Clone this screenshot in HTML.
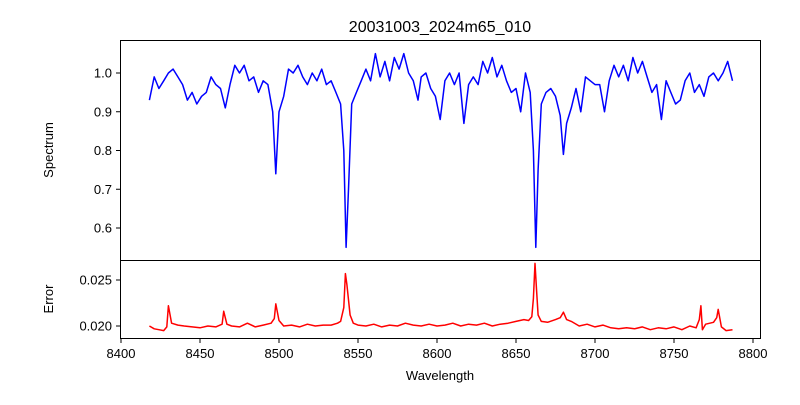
<!DOCTYPE html>
<html><head><meta charset="utf-8"><style>
body{margin:0;background:#fff}
svg text{font-family:"Liberation Sans","DejaVu Sans",sans-serif;fill:#000}
</style></head><body>
<svg id="chart" width="800" height="400" viewBox="0 0 800 400" xmlns="http://www.w3.org/2000/svg">
<rect width="800" height="400" fill="#fff"/>
<text x="440" y="32" font-size="16" text-anchor="middle">20031003_2024m65_010</text>
<g id="topAxes"></g><g id="botAxes"></g>
<text transform="translate(53,150) rotate(-90)" font-size="13" text-anchor="middle">Spectrum</text>
<text transform="translate(53,299) rotate(-90)" font-size="13" text-anchor="middle">Error</text>
<text x="440" y="380" font-size="13" text-anchor="middle">Wavelength</text>
</svg>
<script>
const specWave=[8418,8421,8424,8427,8430,8433,8436,8439,8442,8445,8448,8451,8454,8457,8460,8463,8466,8469,8472,8475,8478,8481,8484,8487,8490,8493,8496,8498,8500,8503,8506,8509,8512,8515,8518,8521,8524,8527,8530,8533,8536,8539,8541,8542.5,8544,8546,8549,8552,8555,8558,8561,8564,8567,8570,8573,8576,8579,8582,8585,8588,8590,8593,8596,8599,8602,8605,8608,8611,8614,8617,8620,8623,8626,8629,8632,8635,8638,8641,8644,8647,8650,8653,8656,8659,8661,8662.5,8664,8666,8669,8672,8675,8678,8680,8682,8685,8688,8691,8694,8697,8700,8703,8706,8709,8712,8715,8718,8721,8724,8727,8730,8733,8736,8739,8742,8745,8748,8751,8754,8757,8760,8763,8766,8769,8772,8775,8778,8781,8784,8787];
const specFlux=[0.93,0.99,0.96,0.98,1.00,1.01,0.99,0.97,0.93,0.95,0.92,0.94,0.95,0.99,0.97,0.96,0.91,0.97,1.02,1.00,1.02,0.98,0.99,0.95,0.98,0.97,0.90,0.74,0.90,0.94,1.01,1.00,1.02,0.99,0.97,1.00,0.98,1.01,0.97,0.98,0.95,0.92,0.80,0.55,0.70,0.92,0.95,0.98,1.01,0.98,1.05,0.99,1.03,0.98,1.04,1.01,1.05,1.00,0.98,0.93,0.99,1.00,0.96,0.94,0.88,0.98,1.00,0.97,1.00,0.87,0.97,0.99,0.97,1.03,1.00,1.04,0.99,1.02,0.98,0.95,0.96,0.90,1.00,0.95,0.80,0.55,0.75,0.92,0.95,0.96,0.94,0.89,0.79,0.87,0.91,0.96,0.90,0.99,0.98,0.97,0.97,0.90,0.98,1.02,0.99,1.02,0.98,1.04,1.00,1.03,0.99,0.95,0.97,0.88,0.98,0.95,0.92,0.93,0.98,1.00,0.95,0.97,0.94,0.99,1.00,0.98,1.00,1.03,0.98];
const errWave=[8418,8421,8424,8427,8429,8430,8432,8436,8440,8445,8450,8455,8460,8464,8465,8467,8470,8475,8480,8485,8490,8495,8497,8498,8500,8503,8508,8513,8518,8523,8528,8533,8537,8539,8541,8542,8543,8545,8547,8550,8555,8560,8565,8570,8575,8580,8585,8590,8595,8600,8605,8610,8615,8620,8625,8630,8635,8640,8645,8650,8655,8658,8660,8661,8662,8663,8664,8666,8670,8675,8678,8680,8682,8685,8690,8695,8700,8705,8710,8715,8720,8725,8730,8735,8740,8745,8750,8755,8760,8764,8766,8767,8768,8770,8775,8777,8778,8780,8783,8787];
const errVal=[0.0200,0.0197,0.0196,0.0195,0.0199,0.0222,0.0203,0.0201,0.0200,0.0199,0.0198,0.0200,0.0199,0.0202,0.0216,0.0202,0.0200,0.0199,0.0203,0.0199,0.0201,0.0203,0.0208,0.0224,0.0206,0.0200,0.0201,0.0199,0.0202,0.0200,0.0201,0.0201,0.0203,0.0205,0.0220,0.0257,0.0245,0.0212,0.0203,0.0201,0.0200,0.0202,0.0199,0.0201,0.0200,0.0203,0.0201,0.0200,0.0202,0.0200,0.0201,0.0203,0.0200,0.0202,0.0201,0.0203,0.0200,0.0202,0.0203,0.0205,0.0207,0.0206,0.0210,0.0230,0.0268,0.0240,0.0212,0.0205,0.0204,0.0207,0.0209,0.0215,0.0207,0.0205,0.0200,0.0202,0.0199,0.0201,0.0198,0.0197,0.0198,0.0197,0.0199,0.0196,0.0198,0.0197,0.0199,0.0196,0.0200,0.0198,0.0207,0.0222,0.0196,0.0202,0.0204,0.0209,0.0218,0.0199,0.0195,0.0196];
const xTicks=[8400,8450,8500,8550,8600,8650,8700,8750,8800];
const yTopTicks=[0.6,0.7,0.8,0.9,1.0];
const yBotTicks=[0.020,0.025];
const X=w=>121+(w-8400)*1.58;
const YT=v=>73+(1.0-v)*387.5;
const YB=v=>326-(v-0.020)*9200;
const NS="http://www.w3.org/2000/svg";
function mk(tag,attrs,parent){const e=document.createElementNS(NS,tag);for(const k in attrs)e.setAttribute(k,attrs[k]);parent.appendChild(e);return e;}
const topG=document.getElementById('topAxes'),botG=document.getElementById('botAxes');
let p=specWave.map((w,i)=>X(w).toFixed(1)+','+YT(specFlux[i]).toFixed(1)).join(' ');
const l1=mk('polyline',{points:p,fill:'none',stroke:'#0000ff','stroke-width':1.5,'stroke-linejoin':'round'},topG);


p=errWave.map((w,i)=>X(w).toFixed(1)+','+YB(errVal[i]).toFixed(1)).join(' ');
const l2=mk('polyline',{points:p,fill:'none',stroke:'#ff0000','stroke-width':1.5,'stroke-linejoin':'round'},botG);


const f1=mk('rect',{x:120.5,y:40.5,width:640,height:220,fill:'none',stroke:'#000','stroke-width':1},topG);


const f2=mk('rect',{x:120.5,y:260.5,width:640,height:78,fill:'none',stroke:'#000','stroke-width':1},botG);


yTopTicks.forEach(v=>{const y=YT(v);mk('line',{x1:116,x2:120,y1:y,y2:y,stroke:'#000'},topG);
 const t=mk('text',{x:112,y:y+4.5,'font-size':13,'text-anchor':'end'},topG);t.textContent=v.toFixed(1);
 
 });
yBotTicks.forEach(v=>{const y=YB(v);mk('line',{x1:116,x2:120,y1:y,y2:y,stroke:'#000'},botG);
 const t=mk('text',{x:112,y:y+4.5,'font-size':13,'text-anchor':'end'},botG);t.textContent=v.toFixed(3);
 
 });
xTicks.forEach(v=>{const x=X(v);mk('line',{x1:x,x2:x,y1:339,y2:343,stroke:'#000'},botG);
 const t=mk('text',{x:x,y:358,'font-size':13,'text-anchor':'middle'},botG);t.textContent=v;
 
 });
</script>
</body></html>
